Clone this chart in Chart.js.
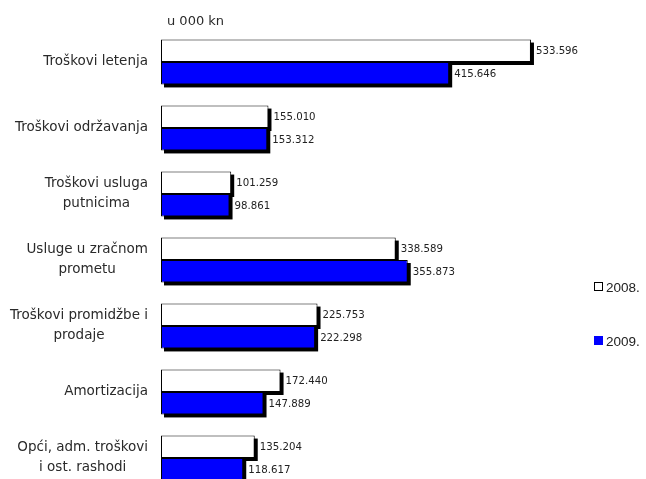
<!DOCTYPE html>
<html>
<head>
<meta charset="utf-8">
<script src="https://cdn.jsdelivr.net/npm/chart.js@4/dist/chart.umd.min.js"></script>
<style>
  html, body { margin: 0; padding: 0; background: #fff; overflow: hidden; }
  #wrap { width: 646px; height: 500px; position: relative; }
</style>
</head>
<body>
<div id="wrap"><canvas id="c"></canvas></div>
<script>
// kategorije troškova
const kategorije = [
  ['Troškovi letenja'],
  ['Troškovi održavanja'],
  ['Troškovi usluga', 'putnicima'],
  ['Usluge u zračnom', 'prometu'],
  ['Troškovi promidžbe i', 'prodaje'],
  ['Amortizacija'],
  ['Opći, adm. troškovi', 'i ost. rashodi']
];
const god2008 = [533.596, 155.010, 101.259, 338.589, 225.753, 172.440, 135.204];
const god2009 = [415.646, 153.312, 98.861, 355.873, 222.298, 147.889, 118.617];
const godine = ['2008.', '2009.'];
const jedinica = 'u 000 kn';

const fmt = v => v.toFixed(3);

// sjena ispod stupaca
const sjenaPlugin = {
  id: 'sjena',
  beforeDatasetsDraw(chart) {
    const ctx = chart.ctx;
    ctx.save();
    ctx.fillStyle = '#000';
    chart.data.datasets.forEach((ds, i) => {
      chart.getDatasetMeta(i).data.forEach(el => {
        const p = el.getProps(['x', 'y', 'base', 'height'], true);
        const x0 = Math.min(p.base, p.x);
        ctx.fillRect(x0 + 3, p.y - p.height / 2 + 3, Math.abs(p.x - p.base), p.height);
      });
    });
    ctx.restore();
  }
};

// vrijednosti, nazivi kategorija, legenda
const tekstPlugin = {
  id: 'tekst',
  afterDatasetsDraw(chart) {
    const ctx = chart.ctx;
    const yScale = chart.scales.y;
    ctx.save();

    // vrijednosti uz stupce
    ctx.font = '10.2px "DejaVu Sans"';
    ctx.fillStyle = '#222';
    ctx.textBaseline = 'middle';
    ctx.textAlign = 'left';
    chart.data.datasets.forEach((ds, i) => {
      chart.getDatasetMeta(i).data.forEach((el, j) => {
        const p = el.getProps(['x', 'y'], true);
        ctx.fillText(fmt(ds.data[j]), p.x + 5, p.y + 1);
      });
    });

    // nazivi kategorija
    ctx.font = '13.5px "DejaVu Sans"';
    ctx.fillStyle = '#2a2a2a';
    ctx.textAlign = 'center';
    kategorije.forEach((lines, j) => {
      const yc = yScale.getPixelForValue(j);
      const w = Math.max(...lines.map(l => ctx.measureText(l).width));
      const cx = 148 - w / 2;
      const lh = 20;
      lines.forEach((l, k) => {
        ctx.fillText(l, cx, yc - 1 + (k - (lines.length - 1) / 2) * lh);
      });
    });

    // jedinica
    ctx.textAlign = 'left';
    ctx.font = '13px "DejaVu Sans"';
    ctx.fillText(jedinica, 167, 22);

    // legenda
    ctx.font = '13.5px "Liberation Sans"';
    const legY = [287, 341];
    chart.data.datasets.forEach((ds, i) => {
      ctx.fillStyle = ds.backgroundColor;
      ctx.fillRect(594, legY[i] - 5, 9, 9);
      ctx.strokeStyle = i === 0 ? '#000' : ds.backgroundColor;
      ctx.lineWidth = 1;
      ctx.strokeRect(594.5, legY[i] - 4.5, 8, 8);
      ctx.fillStyle = '#222';
      ctx.fillText(ds.label, 606, legY[i] + 1);
    });

    ctx.restore();
  }
};

new Chart(document.getElementById('c'), {
  type: 'bar',
  data: {
    labels: kategorije,
    datasets: [
      { label: godine[0], data: god2008, backgroundColor: '#ffffff', borderColor: '#000', borderWidth: 1, borderSkipped: false },
      { label: godine[1], data: god2009, backgroundColor: '#0000ff', borderColor: '#000', borderWidth: 1, borderSkipped: false }
    ]
  },
  options: {
    indexAxis: 'y',
    responsive: true,
    maintainAspectRatio: false,
    animation: false,
    layout: { padding: { left: 161, right: 69, top: 29, bottom: 9 } },
    datasets: { bar: { barPercentage: 1, categoryPercentage: 0.68 } },
    plugins: { legend: { display: false }, tooltip: { enabled: false } },
    scales: {
      x: { display: false, min: 0, max: 600 },
      y: { display: false }
    }
  },
  plugins: [sjenaPlugin, tekstPlugin]
});
</script>
</body>
</html>
